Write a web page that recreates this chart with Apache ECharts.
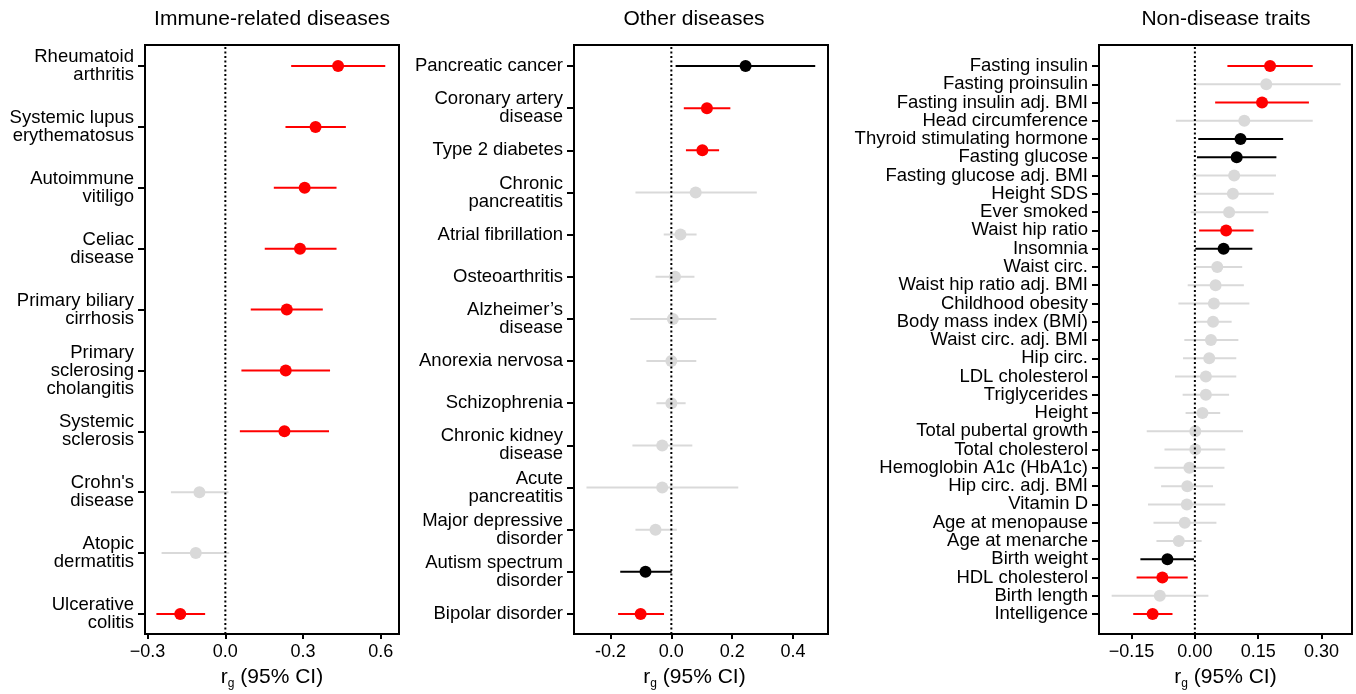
<!DOCTYPE html>
<html>
<head>
<meta charset="utf-8">
<script src="https://cdn.jsdelivr.net/npm/echarts@6/dist/echarts.min.js"></script>
<style>
  html, body { margin: 0; padding: 0; background: #fff; }
  #chart { width: 1356px; height: 694px; }
</style>
</head>
<body>
<div id="chart"></div>
<script>
// significance: 2 = red, 1 = black, 0 = grey
var sigColors = ['#d9d9d9', '#000000', '#ff0000'];
var fontFamily = 'Liberation Sans, Arial, Helvetica, sans-serif';

// Immune-related diseases
var immuneNames = ['Rheumatoid\narthritis', 'Systemic lupus\nerythematosus', 'Autoimmune\nvitiligo', 'Celiac\ndisease',
  'Primary biliary\ncirrhosis', 'Primary\nsclerosing\ncholangitis', 'Systemic\nsclerosis', "Crohn's\ndisease",
  'Atopic\ndermatitis', 'Ulcerative\ncolitis'];
var immuneEst = [0.435, 0.348, 0.306, 0.288, 0.237, 0.233, 0.228, -0.100, -0.114, -0.174];
var immuneLow = [0.254, 0.232, 0.187, 0.152, 0.098, 0.062, 0.056, -0.210, -0.246, -0.266];
var immuneHigh = [0.617, 0.465, 0.429, 0.429, 0.376, 0.404, 0.400, 0.012, 0.015, -0.078];
var immuneSig = [2, 2, 2, 2, 2, 2, 2, 0, 0, 2];
var immuneTicks = [-0.3, 0, 0.3, 0.6];

// Other diseases
var otherNames = ['Pancreatic cancer', 'Coronary artery\ndisease', 'Type 2 diabetes', 'Chronic\npancreatitis',
  'Atrial fibrillation', 'Osteoarthritis', 'Alzheimer\u2019s\ndisease', 'Anorexia nervosa', 'Schizophrenia',
  'Chronic kidney\ndisease', 'Acute\npancreatitis', 'Major depressive\ndisorder', 'Autism spectrum\ndisorder',
  'Bipolar disorder'];
var otherEst = [0.244, 0.117, 0.102, 0.080, 0.030, 0.012, 0.005, 0.000, 0.000, -0.030, -0.030, -0.052, -0.085, -0.101];
var otherLow = [0.014, 0.041, 0.048, -0.118, -0.025, -0.052, -0.135, -0.082, -0.049, -0.128, -0.279, -0.118, -0.168, -0.175];
var otherHigh = [0.473, 0.194, 0.157, 0.281, 0.083, 0.076, 0.148, 0.082, 0.047, 0.069, 0.220, 0.018, 0.001, -0.024];
var otherSig = [1, 2, 2, 0, 0, 0, 0, 0, 0, 0, 0, 0, 1, 2];
var otherTicks = [-0.2, 0, 0.2, 0.4];

// Non-disease traits
var traitNames = ['Fasting insulin', 'Fasting proinsulin', 'Fasting insulin adj. BMI', 'Head circumference',
  'Thyroid stimulating hormone', 'Fasting glucose', 'Fasting glucose adj. BMI', 'Height SDS', 'Ever smoked',
  'Waist hip ratio', 'Insomnia', 'Waist circ.', 'Waist hip ratio adj. BMI', 'Childhood obesity',
  'Body mass index (BMI)', 'Waist circ. adj. BMI', 'Hip circ.', 'LDL cholesterol', 'Triglycerides', 'Height',
  'Total pubertal growth', 'Total cholesterol', 'Hemoglobin A1c (HbA1c)', 'Hip circ. adj. BMI', 'Vitamin D',
  'Age at menopause', 'Age at menarche', 'Birth weight', 'HDL cholesterol', 'Birth length', 'Intelligence'];
var traitEst = [0.178, 0.169, 0.159, 0.117, 0.108, 0.099, 0.093, 0.090, 0.081, 0.074, 0.068, 0.053, 0.049, 0.045,
  0.043, 0.038, 0.034, 0.026, 0.026, 0.018, 0.001, 0.001, -0.013, -0.018, -0.019, -0.024, -0.038, -0.065, -0.077,
  -0.083, -0.100];
var traitLow = [0.077, 0.002, 0.048, -0.045, 0.008, 0.005, -0.006, -0.002, -0.010, 0.010, 0.001, 0.001, -0.017,
  -0.039, 0.000, -0.025, -0.028, -0.047, -0.029, -0.022, -0.114, -0.072, -0.096, -0.080, -0.111, -0.098, -0.091,
  -0.129, -0.138, -0.197, -0.146];
var traitHigh = [0.279, 0.345, 0.270, 0.279, 0.209, 0.193, 0.192, 0.187, 0.174, 0.139, 0.136, 0.112, 0.116, 0.129,
  0.087, 0.103, 0.098, 0.098, 0.081, 0.060, 0.114, 0.072, 0.070, 0.043, 0.072, 0.051, 0.016, -0.002, -0.017, 0.032,
  -0.053];
var traitSig = [2, 0, 2, 0, 1, 1, 0, 0, 0, 2, 1, 0, 0, 0, 0, 0, 0, 0, 0, 0, 0, 0, 0, 0, 0, 0, 0, 1, 2, 0, 2];
var traitTicks = [-0.15, 0, 0.15, 0.30];

var panels = [
  { title: 'Immune-related diseases', titleX: 272, names: immuneNames, est: immuneEst, low: immuneLow, high: immuneHigh,
    sig: immuneSig, ticks: immuneTicks, dec: 1, minus: '\u2212', min: -0.31, max: 0.67, left: 145, width: 254, namePad: 0 },
  { title: 'Other diseases', titleX: 694, names: otherNames, est: otherEst, low: otherLow, high: otherHigh,
    sig: otherSig, ticks: otherTicks, dec: 1, minus: '-', min: -0.32, max: 0.515, left: 574, width: 254, namePad: 13 },
  { title: 'Non-disease traits', titleX: 1226, names: traitNames, est: traitEst, low: traitLow, high: traitHigh,
    sig: traitSig, ticks: traitTicks, dec: 2, minus: '\u2212', min: -0.227, max: 0.372, left: 1099, width: 253, namePad: 0 }
];

function ciRender(params, api) {
  var a = api.coord([api.value(0), api.value(2)]);
  var b = api.coord([api.value(1), api.value(2)]);
  return {
    type: 'line',
    shape: { x1: a[0], y1: a[1], x2: b[0], y2: b[1] },
    style: { stroke: sigColors[api.value(3)], lineWidth: 2 }
  };
}

// category labels, each line right-aligned next to its tick
function labelRenderer(names) {
  return function (params, api) {
    var pt = api.coord([api.value(0), api.value(1)]);
    return {
      type: 'text', x: pt[0] - 11, y: pt[1],
      style: {
        text: names[params.dataIndex], align: 'right', verticalAlign: 'middle',
        fontSize: 18.5, lineHeight: 18, fill: '#000', fontFamily: fontFamily
      }
    };
  };
}

var grids = [], xAxes = [], yAxes = [], series = [], titles = [];

panels.forEach(function (p, k) {
  var fi = 2 * k, di = 2 * k + 1;
  titles.push({
    text: p.title, left: p.titleX, top: 9, textAlign: 'center', padding: 0,
    textStyle: { fontSize: 21, fontWeight: 'normal', color: '#000' }
  });
  // frame box
  grids.push({ left: p.left, top: 45, width: p.width, height: 589, show: true, borderColor: '#000', borderWidth: 2,
    backgroundColor: 'transparent', containLabel: false, outerBoundsMode: 'none' });
  // rows are inset from the frame
  grids.push({ left: p.left, top: 66, width: p.width, height: 548, show: false,
    containLabel: false, outerBoundsMode: 'none' });

  xAxes.push({
    gridIndex: fi, type: 'value', min: p.min, max: p.max,
    axisLine: { show: false, onZero: false }, splitLine: { show: false },
    axisTick: { show: true, length: 5, customValues: p.ticks, lineStyle: { color: '#000', width: 2 } },
    axisLabel: {
      customValues: p.ticks, margin: 9, fontSize: 18, color: '#000',
      formatter: function (v) { var s = Math.abs(v).toFixed(p.dec); return v < 0 ? p.minus + s : s; }
    },
    name: '{r|r}{g|g}{t| (95% CI)}', nameLocation: 'middle', nameGap: 30,
    nameTextStyle: {
      color: '#000', fontSize: 21, padding: [0, p.namePad, 0, 0],
      rich: {
        r: { fontSize: 21, lineHeight: 26, color: '#000' },
        g: { fontSize: 12, lineHeight: 12, verticalAlign: 'bottom', color: '#000' },
        t: { fontSize: 21, lineHeight: 26, color: '#000' }
      }
    }
  });
  yAxes.push({ gridIndex: fi, type: 'value', min: 0, max: 1, show: false });

  xAxes.push({ gridIndex: di, type: 'value', min: p.min, max: p.max, show: false });
  yAxes.push({
    gridIndex: di, type: 'category', data: p.names, inverse: true, boundaryGap: false, position: 'left',
    axisLine: { show: false, onZero: false }, splitLine: { show: false },
    axisTick: { show: true, length: 7, interval: 0, lineStyle: { color: '#000', width: 2 } },
    axisLabel: { show: false }
  });

  series.push({
    type: 'custom', xAxisIndex: di, yAxisIndex: di, z: 4, silent: true, clip: false,
    renderItem: labelRenderer(p.names), encode: { x: 0, y: 1 },
    data: p.names.map(function (n, i) { return [p.min, i]; })
  });
  series.push({
    type: 'custom', xAxisIndex: di, yAxisIndex: di, z: 2, silent: true,
    renderItem: ciRender, encode: { x: [0, 1], y: 2 },
    data: p.low.map(function (v, i) { return [v, p.high[i], i, p.sig[i]]; })
  });
  series.push({
    type: 'scatter', xAxisIndex: di, yAxisIndex: di, z: 3, silent: true, symbolSize: 12,
    data: p.est.map(function (v, i) { return { value: [v, i], itemStyle: { color: sigColors[p.sig[i]], opacity: 1 } }; })
  });
  // dotted zero line across the whole frame
  series.push({
    type: 'line', xAxisIndex: fi, yAxisIndex: fi, z: 5, silent: true, symbol: 'none',
    lineStyle: { color: '#000', width: 2, type: [2, 2.5] },
    data: [[0, 0], [0, 1]]
  });
});

var chart = echarts.init(document.getElementById('chart'));
chart.setOption({
  animation: false,
  textStyle: { fontFamily: fontFamily },
  title: titles,
  grid: grids,
  xAxis: xAxes,
  yAxis: yAxes,
  series: series
});
</script>
</body>
</html>
